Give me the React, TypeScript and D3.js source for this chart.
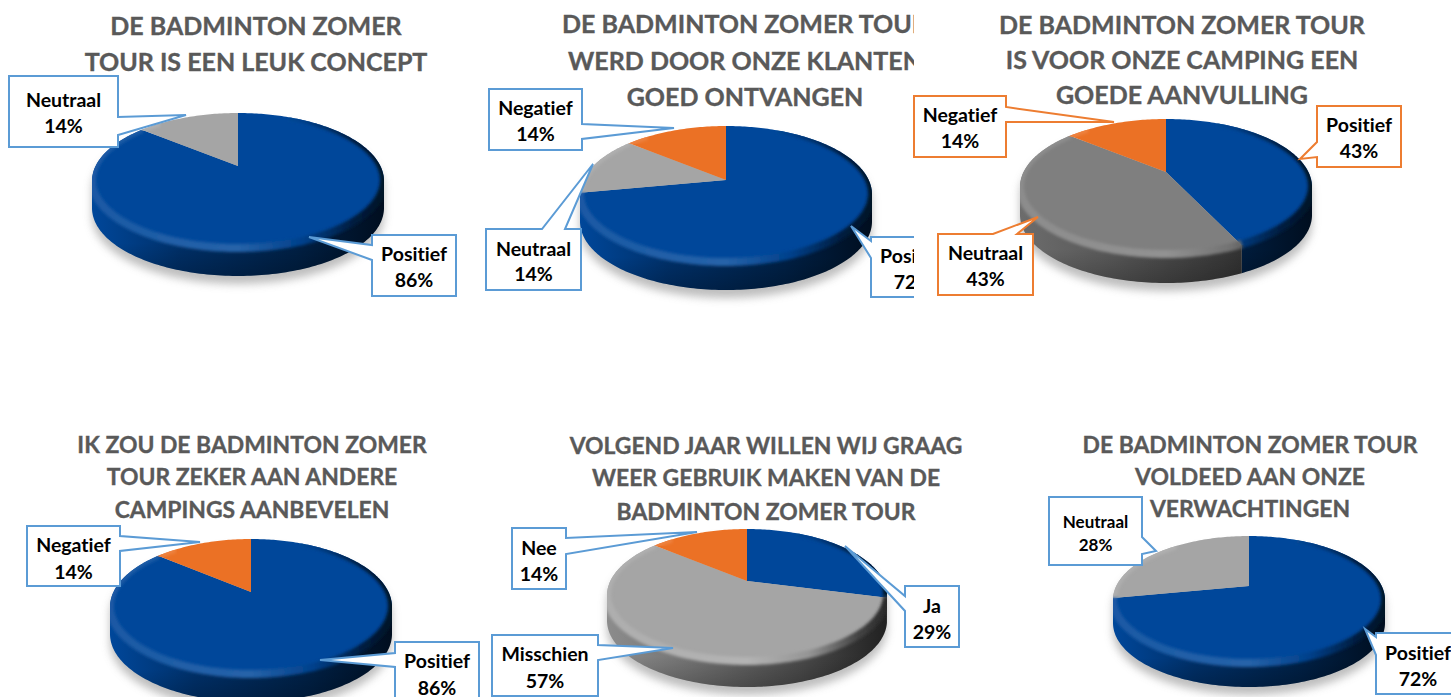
import React from "react";
import * as d3 from "d3";

// ---- data ----
const chart1Title = ["DE BADMINTON ZOMER", "TOUR IS EEN LEUK CONCEPT"];
const chart1Categories = ["Positief", "Neutraal"];
const chart1Values = [86, 14];

const chart2Title = ["DE BADMINTON ZOMER TOUR", "WERD DOOR ONZE KLANTEN", "GOED ONTVANGEN"];
const chart2Categories = ["Positief", "Neutraal", "Negatief"];
const chart2Values = [72, 14, 14];

const chart3Title = ["DE BADMINTON ZOMER TOUR", "IS VOOR ONZE CAMPING EEN", "GOEDE AANVULLING"];
const chart3Categories = ["Positief", "Neutraal", "Negatief"];
const chart3Values = [43, 43, 14];

const chart4Title = ["IK ZOU DE BADMINTON ZOMER", "TOUR ZEKER AAN ANDERE", "CAMPINGS AANBEVELEN"];
const chart4Categories = ["Positief", "Negatief"];
const chart4Values = [86, 14];

const chart5Title = ["VOLGEND JAAR WILLEN WIJ GRAAG", "WEER GEBRUIK MAKEN VAN DE", "BADMINTON ZOMER TOUR"];
const chart5Categories = ["Ja", "Misschien", "Nee"];
const chart5Values = [29, 57, 14];

const chart6Title = ["DE BADMINTON ZOMER TOUR", "VOLDEED AAN ONZE", "VERWACHTINGEN"];
const chart6Categories = ["Positief", "Neutraal"];
const chart6Values = [72, 28];

// ---- styles ----
const BLUE = "#00479a";
const ORANGE = "#eb7125";
const GREY = "#a5a5a5";
const DARK_GREY = "#7f7f7f";
const BLUE_LINE = "#5b9bd5";
const ORANGE_LINE = "#ed7d31";

type Callout = {
  box: [number, number, number, number];
  tip: [number, number];
  side: "l" | "r" | "t";
  base: [number, number];
  textY: [number, number];
  font?: number;
};

type Layout = {
  title: string[];
  cats: string[];
  vals: number[];
  colors: string[];
  titleX: number;
  titleY: number[];
  titleFont: number;
  cx: number;
  rx: number;
  top: number;
  apex: number;
  near: number;
  depth: number;
  line: string;
  clip?: [number, number, number, number];
  callouts: Callout[];
};

const charts: Layout[] = [
  {
    title: chart1Title, cats: chart1Categories, vals: chart1Values, colors: [BLUE, GREY],
    titleX: 256, titleY: [25, 61], titleFont: 25,
    cx: 238, rx: 146, top: 113, apex: 166, near: 249, depth: 27, line: BLUE_LINE,
    callouts: [
      { box: [372, 235, 456, 296], tip: [309, 237], side: "l", base: [245, 260], textY: [253, 279] },
      { box: [9, 76, 118, 147], tip: [186, 115], side: "r", base: [117, 135], textY: [99, 125] },
    ],
  },
  {
    title: chart2Title, cats: chart2Categories, vals: chart2Values, colors: [BLUE, GREY, ORANGE],
    titleX: 745, titleY: [23, 60, 96], titleFont: 25,
    cx: 726, rx: 146, top: 126, apex: 180, near: 263, depth: 27, line: BLUE_LINE,
    clip: [0, 0, 914, 697],
    callouts: [
      { box: [871, 237, 955, 297], tip: [851, 226], side: "l", base: [241, 258], textY: [255, 281] },
      { box: [486, 229, 581, 290], tip: [593, 164], side: "t", base: [542, 565], textY: [248, 273] },
      { box: [489, 89, 582, 150], tip: [674, 128], side: "r", base: [124, 139], textY: [107, 133] },
    ],
  },
  {
    title: chart3Title, cats: chart3Categories, vals: chart3Values, colors: [BLUE, DARK_GREY, ORANGE],
    titleX: 1182, titleY: [24, 59, 94], titleFont: 25,
    cx: 1166, rx: 146, top: 119, apex: 172, near: 255, depth: 28, line: ORANGE_LINE,
    callouts: [
      { box: [1317, 106, 1401, 167], tip: [1300, 159], side: "l", base: [142, 157], textY: [124, 150] },
      { box: [938, 234, 1033, 295], tip: [1038, 217], side: "t", base: [993, 1017], textY: [252, 278] },
      { box: [914, 96, 1006, 157], tip: [1114, 122], side: "r", base: [107, 122], textY: [114, 140] },
    ],
  },
  {
    title: chart4Title, cats: chart4Categories, vals: chart4Values, colors: [BLUE, ORANGE],
    titleX: 252, titleY: [444, 476, 509], titleFont: 22.9,
    cx: 251, rx: 141, top: 539, apex: 592, near: 675, depth: 27, line: BLUE_LINE,
    callouts: [
      { box: [395, 642, 479, 703], tip: [320, 660], side: "l", base: [653, 667], textY: [660, 687] },
      { box: [27, 526, 120, 586], tip: [200, 542], side: "r", base: [536, 551], textY: [544, 571] },
    ],
  },
  {
    title: chart5Title, cats: chart5Categories, vals: chart5Values, colors: [BLUE, GREY, ORANGE],
    titleX: 766, titleY: [445, 477, 511], titleFont: 22.9,
    cx: 747, rx: 140, top: 529, apex: 581, near: 662, depth: 25, line: BLUE_LINE,
    callouts: [
      { box: [905, 586, 959, 647], tip: [845, 546], side: "l", base: [596, 611], textY: [605, 631] },
      { box: [492, 635, 598, 696], tip: [673, 648], side: "r", base: [645, 660], textY: [653, 680] },
      { box: [512, 528, 566, 589], tip: [697, 532], side: "r", base: [538, 554], textY: [547, 573] },
    ],
  },
  {
    title: chart6Title, cats: chart6Categories, vals: chart6Values, colors: [BLUE, GREY],
    titleX: 1250, titleY: [444, 476, 508], titleFont: 22.9,
    cx: 1249, rx: 136, top: 536, apex: 586, near: 664, depth: 23, line: BLUE_LINE,
    callouts: [
      { box: [1376, 633, 1460, 694], tip: [1365, 629], side: "l", base: [637, 655], textY: [652, 678] },
      { box: [1049, 497, 1142, 565], tip: [1156, 551], side: "r", base: [537, 554], textY: [521, 544], font: 17 },
    ],
  },
];

const FONT = "Lato, Carlito, sans-serif";
const TAU = Math.PI * 2;

function projection(l: Layout) {
  const c = (l.top + l.near - 2 * l.apex) / (l.near - l.top);
  const a = l.top * (1 + c) - l.apex;
  const R = l.rx * Math.sqrt(1 - c * c);
  const theta0 = Math.acos(-c);
  const pt = (t: number, dy = 0): [number, number] => {
    const u = Math.cos(t);
    const den = c * u + 1;
    return [l.cx + (R * Math.sin(t)) / den, (a * u + l.apex) / den + dy];
  };
  return { pt, theta0 };
}

const lineGen = d3.line<[number, number]>().x((d) => d[0]).y((d) => d[1]);

function sample(t0: number, t1: number): number[] {
  const n = Math.max(2, Math.ceil(Math.abs(t1 - t0) / 0.02));
  return d3.range(n + 1).map((i) => t0 + ((t1 - t0) * i) / n);
}

function calloutPath(c: Callout) {
  const [x0, y0, x1, y1] = c.box;
  const [b0, b1] = c.base;
  let pts: [number, number][];
  if (c.side === "l") pts = [[x0, y0], [x1, y0], [x1, y1], [x0, y1], [x0, b1], c.tip, [x0, b0]];
  else if (c.side === "r") pts = [[x0, y0], [x1, y0], [x1, b0], c.tip, [x1, b1], [x1, y1], [x0, y1]];
  else pts = [[x0, y0], [b0, y0], c.tip, [b1, y0], [x1, y0], [x1, y1], [x0, y1]];
  return lineGen(pts) + "Z";
}

const shade = (col: string, k: number) => {
  const r = d3.rgb(col);
  return d3.rgb(r.r * k, r.g * k, r.b * k).formatHex();
};
const lift = (col: string, k: number) => {
  const r = d3.rgb(col);
  return d3.rgb(r.r + (255 - r.r) * k, r.g + (255 - r.g) * k, r.b + (255 - r.b) * k).formatHex();
};

function Pie({ l, id }: { l: Layout; id: number }) {
  const { pt, theta0 } = projection(l);
  const arcs = d3.pie<number>().sort(null).value((d) => d)(l.vals);
  const frontA = theta0;
  const frontB = TAU - theta0;
  const outline =
    lineGen([
      ...sample(frontB, TAU + frontA).map((t) => pt(t)),
      ...sample(frontA, frontB).map((t) => pt(t, l.depth)),
    ]) + "Z";
  const rimA = 0.45;
  const rimB = TAU - 0.7;
  const gx = (s: string) => `${s}-${id}`;
  return (
    <g>
      <path d={outline} transform="translate(0,8)" fill="#a8a8a8" opacity={0.75} filter="url(#shadowBlur)" />
      <defs>
        <clipPath id={gx("sil")}><path d={outline} /></clipPath>
        <linearGradient id={gx("fall")} gradientUnits="userSpaceOnUse" x1={0} x2={0} y1={l.near - 6} y2={l.near + l.depth}>
          <stop offset="0" stopColor="#000" stopOpacity={0} />
          <stop offset="1" stopColor="#000" stopOpacity={0.22} />
        </linearGradient>
        {l.colors.map((col, i) => (
          <React.Fragment key={i}>
            <linearGradient id={gx("side" + i)} gradientUnits="userSpaceOnUse" x1={l.cx - l.rx} x2={l.cx + l.rx} y1={0} y2={0}>
              <stop offset="0" stopColor={shade(col, col === BLUE ? 1 : 0.85)} />
              <stop offset="0.3" stopColor={shade(col, col === BLUE ? 0.68 : 0.7)} />
              <stop offset="0.7" stopColor={shade(col, 0.45)} />
              <stop offset="1" stopColor={shade(col, 0.2)} />
            </linearGradient>
            <linearGradient id={gx("rim" + i)} gradientUnits="userSpaceOnUse" x1={l.cx - l.rx} x2={l.cx + l.rx} y1={0} y2={0}>
              <stop offset="0" stopColor={lift(col, 0.1)} />
              <stop offset="0.5" stopColor={lift(col, 0.15)} />
              <stop offset="0.72" stopColor={shade(col, 0.9)} />
              <stop offset="0.9" stopColor={shade(col, 0.4)} />
              <stop offset="1" stopColor={shade(col, 0.25)} />
            </linearGradient>
          </React.Fragment>
        ))}
      </defs>
      {arcs.map((a, i) => {
        const s = Math.max(a.startAngle, frontA);
        const e = Math.min(a.endAngle, frontB);
        if (e <= s) return null;
        const ts = sample(s, e);
        return (
          <path key={i} fill={`url(#${gx("side" + i)})`}
            d={lineGen([...ts.map((t) => pt(t, -1)), ...ts.slice().reverse().map((t) => pt(t, l.depth))]) + "Z"} />
        );
      })}
      <path d={lineGen([...sample(frontA, frontB).map((t) => pt(t, 0)), ...sample(frontA, frontB).reverse().map((t) => pt(t, l.depth))]) + "Z"} fill={`url(#${gx("fall")})`} />
      {arcs.map((a, i) => (
        <path key={i} fill={l.colors[i]}
          d={lineGen([[l.cx, l.apex], ...sample(a.startAngle, a.endAngle).map((t) => pt(t))]) + "Z"} />
      ))}
      <g clipPath={`url(#${gx("sil")})`}>
        {arcs.map((a, i) => {
          const s = Math.max(a.startAngle, rimA);
          const e = Math.min(a.endAngle, rimB);
          if (e <= s) return null;
          return (
            <path key={i} fill="none" stroke={`url(#${gx("rim" + i)})`} strokeWidth={8}
              filter="url(#rimBlur)" d={lineGen(sample(s, e).map((t) => pt(t, -1))) ?? ""} />
          );
        })}
      </g>
    </g>
  );
}

function Chart({ l, id }: { l: Layout; id: number }) {
  const total = d3.sum(l.vals);
  const fmt = d3.format(".0%");
  return (
    <g clipPath={l.clip ? `url(#clip-${id})` : undefined}>
      {l.clip && (
        <clipPath id={`clip-${id}`}>
          <rect x={l.clip[0]} y={l.clip[1]} width={l.clip[2]} height={l.clip[3]} />
        </clipPath>
      )}
      {l.title.map((t, i) => (
        <text key={i} x={l.titleX} y={l.titleY[i]} textAnchor="middle" dominantBaseline="central"
          fontFamily={FONT} fontWeight={700} fontSize={l.titleFont} fill="#595959" stroke="#595959" strokeWidth={0.35}
          style={{ fontVariantLigatures: "none" }}>{t}</text>
      ))}
      <Pie l={l} id={id} />
      {l.callouts.map((c, i) => (
        <g key={i}>
          <path d={calloutPath(c)} fill="#fff" stroke={l.line} strokeWidth={2} strokeLinejoin="miter" />
          {[l.cats[i], fmt(l.vals[i] / total)].map((t, j) => (
            <text key={j} x={(c.box[0] + c.box[2]) / 2} y={c.textY[j]} textAnchor="middle" dominantBaseline="central"
              fontFamily={FONT} fontWeight={700} fontSize={c.font ?? 19.5} fill="#000"
              style={{ fontVariantLigatures: "none" }}>{t}</text>
          ))}
        </g>
      ))}
    </g>
  );
}

export default function App() {
  return (
    <svg width={1451} height={697} viewBox="0 0 1451 697"
      style={{ position: "absolute", left: 0, top: 0, display: "block", background: "#fff" }}>
      <defs>
        <filter id="shadowBlur" x="-10%" y="-10%" width="120%" height="130%"><feGaussianBlur stdDeviation="4" /></filter>
        <filter id="rimBlur" x="-10%" y="-20%" width="120%" height="140%"><feGaussianBlur stdDeviation="1.8" /></filter>
      </defs>
      {charts.map((l, i) => <Chart key={i} l={l} id={i} />)}
    </svg>
  );
}
